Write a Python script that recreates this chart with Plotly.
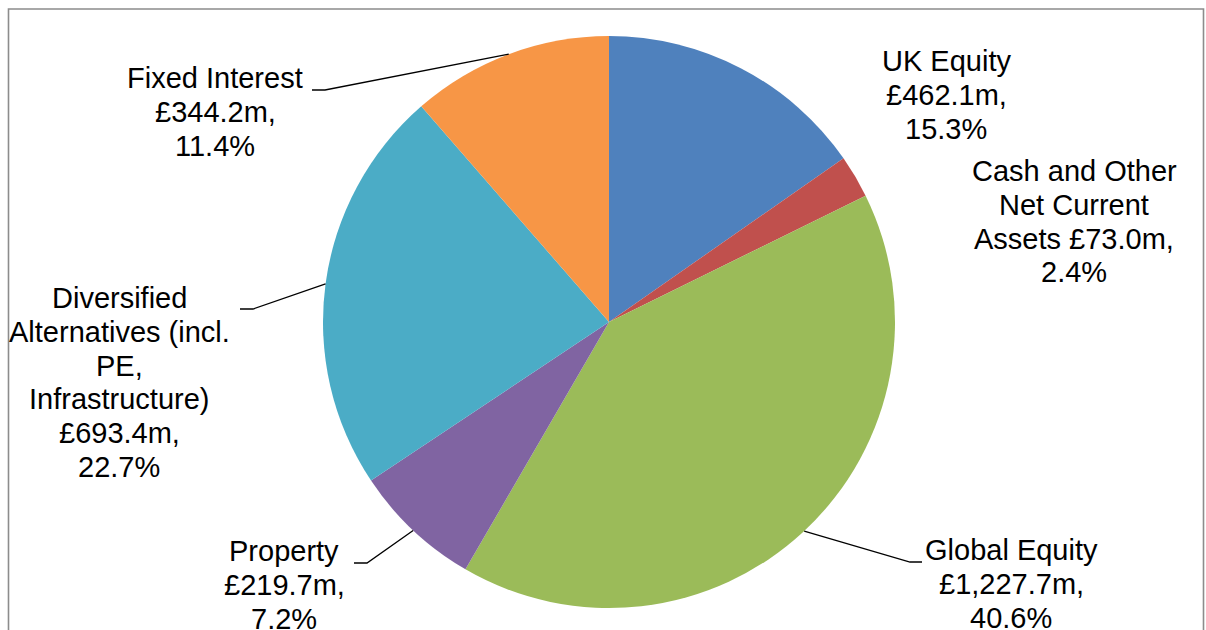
import math
import plotly.graph_objects as go

W, H = 1206, 630

# ---- data ----
categories = ["UK Equity", "Cash and Other Net Current Assets", "Global Equity",
              "Property", "Diversified Alternatives (incl. PE, Infrastructure)", "Fixed Interest"]
values_m = [462.1, 73.0, 1227.7, 219.7, 693.4, 344.2]
percent_labels = ["15.3%", "2.4%", "40.6%", "7.2%", "22.7%", "11.4%"]
label_lines = [
    ["UK Equity", "£462.1m,", "15.3%"],
    ["Cash and Other", "Net Current", "Assets £73.0m,", "2.4%"],
    ["Global Equity", "£1,227.7m,", "40.6%"],
    ["Property", "£219.7m,", "7.2%"],
    ["Diversified", "Alternatives (incl.", "PE,", "Infrastructure)", "£693.4m,", "22.7%"],
    ["Fixed Interest", "£344.2m,", "11.4%"],
]
colors = ["#4F81BD", "#C0504D", "#9BBB59", "#8064A2", "#4BACC6", "#F79646"]

# ---- layout (pixels) ----
CX, CY, R = 609, 322, 286
label_pos = [(946, 61), (1074, 171), (1011, 550), (284, 551), (119, 298), (215, 78)]
LINE_H = 33.8
# leader: (elbow point, label-end point) or None
leaders = [None, None, ((910, 562), (922, 562)), ((367, 563), (354, 563)),
           ((253, 309), (240, 309)), ((325, 90), (312, 90))]
FONT = dict(family="Liberation Sans, Arial, sans-serif", size=29, color="black")


def px(x):
    return x / W


def py(y):
    return 1 - y / H


fig = go.Figure(go.Pie(
    labels=categories, values=values_m, sort=False, direction="clockwise", rotation=0,
    marker=dict(colors=colors, line=dict(color="white", width=0)),
    textinfo="none", hoverinfo="skip", showlegend=False,
    domain=dict(x=[px(CX - R), px(CX + R)], y=[py(CY + R), py(CY - R)]),
))

annotations = []
for lines, (lx, ly) in zip(label_lines, label_pos):
    for i, t in enumerate(lines):
        annotations.append(dict(x=px(lx), y=py(ly + i * LINE_H), xref="paper", yref="paper",
                                text=t, showarrow=False, xanchor="center", yanchor="middle",
                                font=FONT))

shapes = [dict(type="rect", xref="paper", yref="paper", x0=px(8.5), x1=px(1203.5),
               y0=py(650), y1=py(9), line=dict(color="#8c8c8c", width=1.6), layer="below")]

total = sum(values_m)
cum = 0.0
for v, ld in zip(values_m, leaders):
    mid = (cum + v / 2) / total * 2 * math.pi
    cum += v
    if ld is None:
        continue
    ex, ey = CX + R * math.sin(mid), CY - R * math.cos(mid)
    (bx, by), (tx, ty) = ld
    path = f"M {px(ex)} {py(ey)} L {px(bx)} {py(by)} L {px(tx)} {py(ty)}"
    shapes.append(dict(type="path", xref="paper", yref="paper", path=path,
                       line=dict(color="black", width=1.3)))

fig.update_layout(width=W, height=H, margin=dict(l=0, r=0, t=0, b=0),
                  paper_bgcolor="white", plot_bgcolor="white",
                  annotations=annotations, shapes=shapes)

fig.write_html("out.html")
